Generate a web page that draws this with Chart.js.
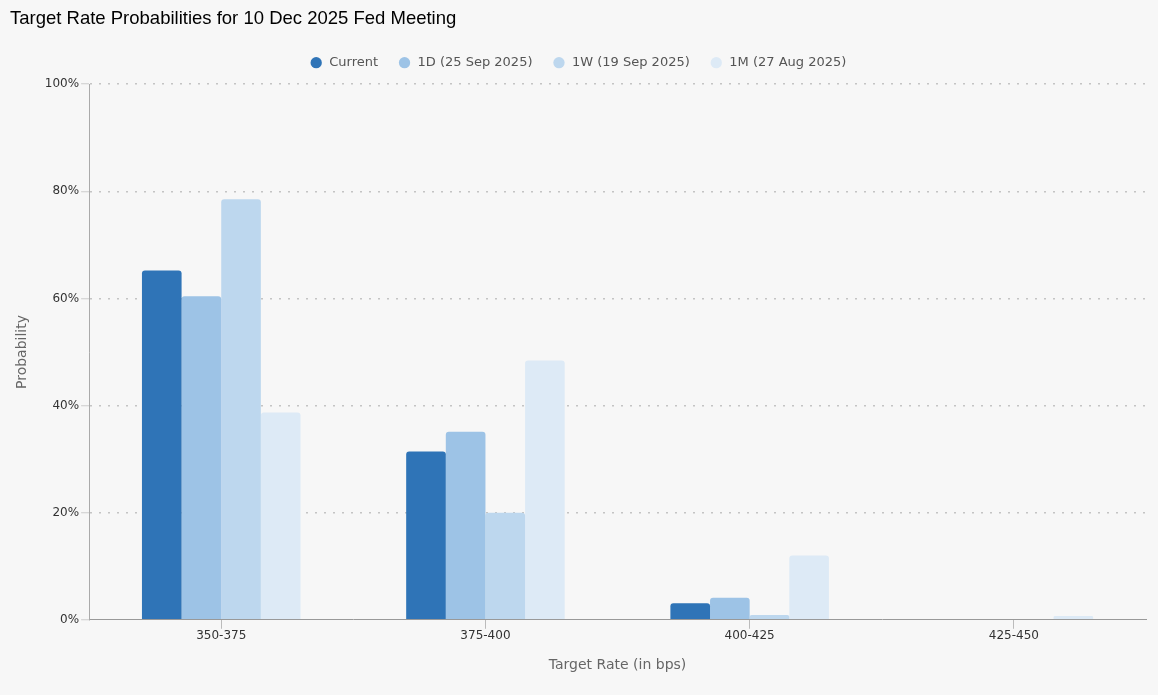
<!DOCTYPE html>
<html>
<head>
<meta charset="utf-8">
<script src="https://cdn.jsdelivr.net/npm/chart.js@4"></script>
<style>
  html, body { margin: 0; padding: 0; background: #f7f7f7; }
  #wrap { width: 1158px; height: 695px; }
</style>
</head>
<body>
<div id="wrap"><canvas id="chart"></canvas></div>
<script>
const categories = ['350-375', '375-400', '400-425', '425-450'];
const seriesNames = ['Current', '1D (25 Sep 2025)', '1W (19 Sep 2025)', '1M (27 Aug 2025)'];
const current = [65.2, 31.4, 3.1, 0];
const oneDay = [60.4, 35.1, 4.1, 0];
const oneWeek = [78.5, 20.0, 0.9, 0];
const oneMonth = [38.7, 48.4, 12.0, 0.7];
const yTicks = [0, 20, 40, 60, 80, 100];
const seriesColors = ['#2f74b7', '#9dc3e6', '#bdd7ee', '#ddeaf6'];

const font = "'DejaVu Sans', sans-serif";
const values = [current, oneDay, oneWeek, oneMonth];

// a bit more room under the legend
const legendGap = {
  id: 'legendGap',
  beforeInit(chart) {
    const fit = chart.legend.fit;
    chart.legend.fit = function () {
      fit.call(this);
      this.height += 5;
    };
  }
};

new Chart(document.getElementById('chart'), {
  type: 'bar',
  data: {
    labels: categories,
    datasets: values.map((data, i) => ({
      label: seriesNames[i],
      data,
      backgroundColor: seriesColors[i],
      borderRadius: { topLeft: 3, topRight: 3 },
      borderSkipped: 'bottom',
      categoryPercentage: 0.6,
      barPercentage: 1.0
    }))
  },
  plugins: [legendGap],
  options: {
    responsive: true,
    maintainAspectRatio: false,
    animation: false,
    layout: { padding: { left: 10, right: 12, bottom: 17 } },
    plugins: {
      title: {
        display: true,
        text: 'Target Rate Probabilities for 10 Dec 2025 Fed Meeting',
        align: 'start',
        color: '#000',
        font: { family: "'Liberation Sans', Arial, sans-serif", size: 18.5, weight: 'normal' },
        padding: { top: 8, bottom: 6 }
      },
      legend: {
        position: 'top',
        labels: {
          usePointStyle: true,
          pointStyle: 'circle',
          boxHeight: 8,
          padding: 20,
          color: '#555',
          font: { family: font, size: 13 }
        }
      },
      tooltip: { enabled: false }
    },
    scales: {
      x: {
        grid: { offset: false, drawOnChartArea: false, drawTicks: true, tickLength: 9, tickColor: '#bbb' },
        border: { color: '#999' },
        ticks: { color: '#333', font: { family: font, size: 12 }, padding: 0 },
        title: { display: true, text: 'Target Rate (in bps)', color: '#666', font: { family: font, size: 14 }, padding: { top: 14 } }
      },
      y: {
        min: 0,
        max: 100,
        afterBuildTicks: axis => { axis.ticks = yTicks.map(v => ({ value: v })); },
        grid: {
          color: ctx => ctx.tick && ctx.tick.value === 0 ? 'rgba(0,0,0,0)' : '#c4c4c4',
          lineWidth: 1.5,
          tickColor: '#ccc',
          tickLength: 8,
          tickWidth: 1,
          tickBorderDash: []
        },
        border: { color: '#aaa', dash: [2, 7] },
        ticks: { color: '#333', font: { family: font, size: 12 }, padding: 2, callback: v => v + '%' },
        title: { display: true, text: 'Probability', color: '#666', font: { family: font, size: 14 }, padding: { bottom: 12 } }
      }
    }
  }
});
</script>
</body>
</html>
